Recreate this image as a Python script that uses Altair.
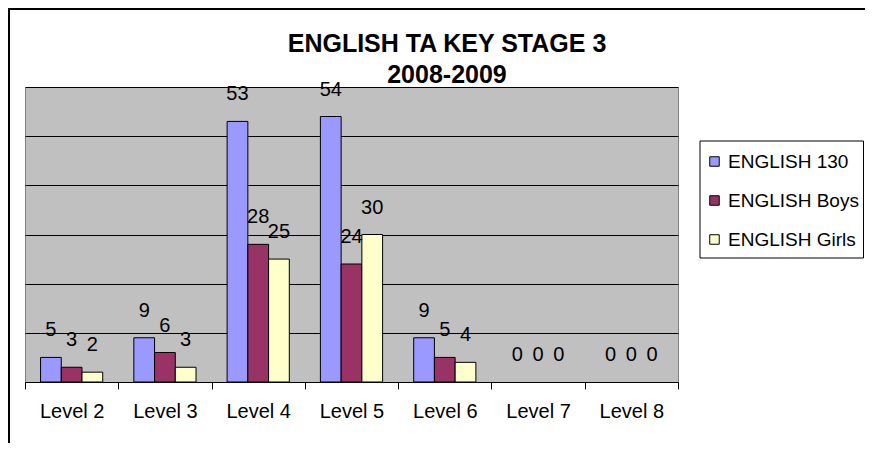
import altair as alt
import pandas as pd

levels = ["Level 2", "Level 3", "Level 4", "Level 5", "Level 6", "Level 7", "Level 8"]
series = ["ENGLISH 130", "ENGLISH Boys", "ENGLISH Girls"]
english_130 = [5, 9, 53, 54, 9, 0, 0]
english_boys = [3, 6, 28, 24, 5, 0, 0]
english_girls = [2, 3, 25, 30, 4, 0, 0]
colors = ["#9999FF", "#993366", "#FFFFCC"]
y_ticks = [0, 10, 20, 30, 40, 50, 60]
title_lines = ["ENGLISH TA KEY STAGE 3", "2008-2009"]

rows = []
for s, vals in zip(series, [english_130, english_boys, english_girls]):
    for l, v in zip(levels, vals):
        rows.append({"level": l, "series": s, "value": v})
df = pd.DataFrame(rows)

FONT = "Liberation Sans"
W, H = 653, 295

x = alt.X(
    "level:N", sort=levels,
    scale=alt.Scale(paddingInner=0, paddingOuter=0),
    axis=alt.Axis(title=None, labelAngle=0, tickBand="extent", tickSize=7,
                  tickColor="black", domainColor="black", labelFontSize=20,
                  labelFont=FONT, labelColor="black", labelPadding=12, grid=False),
)
xo = alt.XOffset("series:N", sort=series,
                 scale=alt.Scale(domain=series, paddingInner=0, paddingOuter=0.75))
y = alt.Y(
    "value:Q",
    scale=alt.Scale(domain=[0, 60], nice=False),
    axis=alt.Axis(title=None, values=y_ticks, labels=False, ticks=False,
                  domain=False, gridColor="black", gridWidth=1, gridOpacity=1),
)
color = alt.Color(
    "series:N", sort=series,
    scale=alt.Scale(domain=series, range=colors),
    legend=alt.Legend(title=None, orient="none", legendX=680, legendY=65,
                      padding=0, symbolType="square", symbolSize=90,
                      symbolStrokeColor="black", symbolStrokeWidth=1,
                      labelFontSize=19, labelFont=FONT, labelColor="black",
                      rowPadding=19, labelOffset=4, labelLimit=300),
)

base = alt.Chart(df)
bars = base.transform_filter("datum.value > 0").mark_bar(
    stroke="black", strokeWidth=1).encode(x=x, xOffset=xo, y=y, color=color)
labels = base.mark_text(dy=-27, baseline="middle", fontSize=20, font=FONT,
                        color="black").encode(
    x=x, xOffset=xo, y=y, text="value:Q")

one = alt.Data(values=[{}])
frame = alt.Chart(one).mark_rect(
    fillOpacity=0, stroke="black", strokeWidth=2).encode(
    x=alt.value(-16), x2=alt.value(900), y=alt.value(-78), y2=alt.value(500))
legend_box = alt.Chart(one).mark_rect(
    fill="white", stroke="black", strokeWidth=1).encode(
    x=alt.value(675), x2=alt.value(838.5), y=alt.value(54), y2=alt.value(171))
title1 = alt.Chart(one).mark_text(
    text=title_lines[0], fontSize=25, fontWeight="bold", font=FONT,
    color="black", baseline="middle", align="center").encode(
    x=alt.value(422), y=alt.value(-43))
title2 = alt.Chart(one).mark_text(
    text=title_lines[1], fontSize=25, fontWeight="bold", font=FONT,
    color="black", baseline="middle", align="center").encode(
    x=alt.value(422), y=alt.value(-12))

chart = alt.layer(frame, legend_box, bars, labels, title1, title2).properties(
    width=W, height=H,
    autosize=alt.AutoSizeParams(type="none"),
    padding={"left": 17, "top": 79, "right": 187, "bottom": 61},
).configure_view(fill="#C0C0C0", stroke="#808080")

chart.save("out.html", embed_options={"renderer": "svg", "actions": False})
